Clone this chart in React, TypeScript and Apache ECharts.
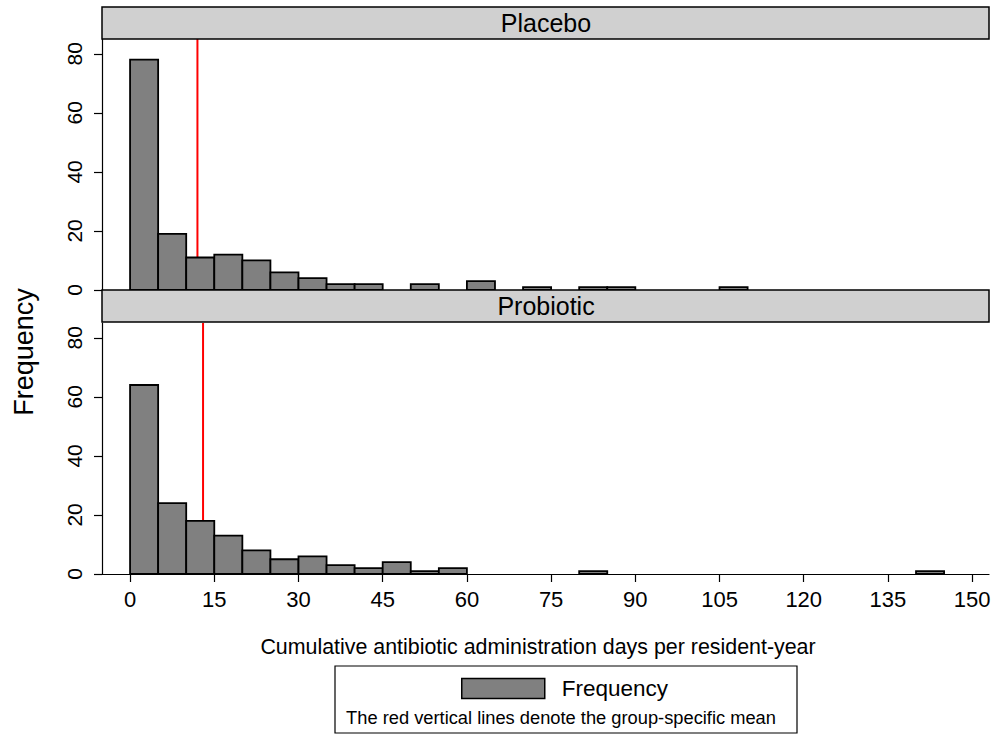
import React, { useEffect, useRef } from "react";
import * as echarts from "echarts";

// ---- data ----
const BIN_WIDTH = 5;
const panelNames = ["Placebo", "Probiotic"];
const placeboBinStarts = [0, 5, 10, 15, 20, 25, 30, 35, 40, 50, 60, 70, 80, 85, 105];
const placeboCounts = [78, 19, 11, 12, 10, 6, 4, 2, 2, 2, 3, 1, 1, 1, 1];
const probioticBinStarts = [0, 5, 10, 15, 20, 25, 30, 35, 40, 45, 50, 55, 80, 140];
const probioticCounts = [64, 24, 18, 13, 8, 5, 6, 3, 2, 4, 1, 2, 1, 1];
const groupMeans = [12.0, 13.0];
const xTickValues = [0, 15, 30, 45, 60, 75, 90, 105, 120, 135, 150];
const xRange = [-5, 153];
const yMax = 85;
const yInterval = 20;
const xTitle = "Cumulative antibiotic administration days per resident-year";
const yTitle = "Frequency";
const legendNote = "The red vertical lines denote the group-specific mean";

const FONT = "'Liberation Sans', Arial, Helvetica, sans-serif";

function toBins(starts: number[], counts: number[]) {
  return starts.map((s, i) => [s, s + BIN_WIDTH, counts[i]]);
}

export default function App() {
  const ref = useRef<HTMLDivElement>(null);
  useEffect(() => {
    if (!ref.current) return;
    const chart = echarts.init(ref.current, null, { renderer: "svg" });

    const grids = [
      { left: 102, top: 39, width: 887, height: 251 },
      { left: 102, top: 323, width: 887, height: 251 },
    ];

    const renderBar = (params: any, api: any) => {
      const x0 = api.value(0);
      const x1 = api.value(1);
      const y = api.value(2);
      const p0 = api.coord([x0, 0]);
      const p1 = api.coord([x1, y]);
      return {
        type: "rect",
        shape: { x: p0[0], y: p1[1], width: p1[0] - p0[0], height: p0[1] - p1[1] },
        style: { fill: "#808080", stroke: "#000000", lineWidth: 1.8 },
      };
    };

    const xAxisBase = {
      type: "value",
      min: xRange[0],
      max: xRange[1],
      splitLine: { show: false },
    };

    const yAxisBase = {
      type: "value",
      min: 0,
      max: yMax,
      interval: yInterval,
      splitLine: { show: false },
      axisLine: { show: true, onZero: false, lineStyle: { color: "#000", width: 1.2 } },
      axisTick: { show: true, length: 8, lineStyle: { color: "#000", width: 1.2 } },
      axisLabel: {
        rotate: 90,
        fontSize: 21,
        color: "#000",
        fontFamily: FONT,
        margin: 17,
        showMaxLabel: false,
      },
    };

    const option: any = {
      animation: false,
      backgroundColor: "#ffffff",
      grid: grids,
      xAxis: [
        {
          ...xAxisBase,
          gridIndex: 0,
          axisLine: { show: false },
          axisTick: { show: false },
          axisLabel: { show: false },
        },
        {
          ...xAxisBase,
          gridIndex: 1,
          axisLine: { show: true, onZero: false, lineStyle: { color: "#000", width: 1.2 } },
          axisTick: {
            show: true,
            length: 8,
            customValues: xTickValues,
            lineStyle: { color: "#000", width: 1.2 },
          },
          axisLabel: {
            show: true,
            customValues: xTickValues,
            fontSize: 22,
            color: "#000",
            fontFamily: FONT,
            margin: 14,
          },
        },
      ],
      yAxis: [
        { ...yAxisBase, gridIndex: 0 },
        { ...yAxisBase, gridIndex: 1 },
      ],
      legend: {
        show: true,
        data: [
          {
            name: "Frequency",
            icon: "rect",
            itemStyle: { color: "#808080", borderColor: "#000", borderWidth: 1.5 },
          },
        ],
        left: 456,
        top: 672,
        itemWidth: 83,
        itemHeight: 20,
        selectedMode: false,
        textStyle: { fontSize: 22.5, color: "#000", fontFamily: FONT, padding: [0, 0, 0, 12] },
      },
      series: [
        {
          name: "mean-placebo",
          type: "line",
          xAxisIndex: 0,
          yAxisIndex: 0,
          data: [
            [groupMeans[0], 0],
            [groupMeans[0], yMax],
          ],
          symbol: "none",
          silent: true,
          z: 1,
          lineStyle: { color: "#ff0000", width: 2 },
        },
        {
          name: "mean-probiotic",
          type: "line",
          xAxisIndex: 1,
          yAxisIndex: 1,
          data: [
            [groupMeans[1], 0],
            [groupMeans[1], yMax],
          ],
          symbol: "none",
          silent: true,
          z: 1,
          lineStyle: { color: "#ff0000", width: 2 },
        },
        {
          name: "Frequency",
          type: "custom",
          xAxisIndex: 0,
          yAxisIndex: 0,
          renderItem: renderBar,
          encode: { x: [0, 1], y: 2 },
          data: toBins(placeboBinStarts, placeboCounts),
          itemStyle: { color: "#808080" },
          z: 2,
        },
        {
          name: "Frequency",
          type: "custom",
          xAxisIndex: 1,
          yAxisIndex: 1,
          renderItem: renderBar,
          encode: { x: [0, 1], y: 2 },
          data: toBins(probioticBinStarts, probioticCounts),
          itemStyle: { color: "#808080" },
          z: 2,
        },
      ],
      graphic: [
        // strips
        {
          type: "rect",
          shape: { x: 102, y: 7, width: 887, height: 32 },
          style: { fill: "#d0d0d0", stroke: "#000", lineWidth: 1.5 },
          z: 10,
        },
        {
          type: "text",
          x: 546,
          y: 23,
          style: {
            text: panelNames[0],
            fontSize: 25,
            fontFamily: FONT,
            fill: "#000",
            align: "center",
            verticalAlign: "middle",
          },
          z: 11,
        },
        {
          type: "rect",
          shape: { x: 102, y: 290, width: 887, height: 32 },
          style: { fill: "#d0d0d0", stroke: "#000", lineWidth: 1.5 },
          z: 10,
        },
        {
          type: "text",
          x: 546,
          y: 306,
          style: {
            text: panelNames[1],
            fontSize: 25,
            fontFamily: FONT,
            fill: "#000",
            align: "center",
            verticalAlign: "middle",
          },
          z: 11,
        },
        // axis titles
        {
          type: "text",
          x: 538,
          y: 647,
          style: {
            text: xTitle,
            fontSize: 21.4,
            fontFamily: FONT,
            fill: "#000",
            align: "center",
            verticalAlign: "middle",
          },
        },
        {
          type: "text",
          x: 24,
          y: 352,
          rotation: Math.PI / 2,
          style: {
            text: yTitle,
            fontSize: 27,
            fontFamily: FONT,
            fill: "#000",
            align: "center",
            verticalAlign: "middle",
          },
        },
        // legend box
        {
          type: "rect",
          shape: { x: 335, y: 666, width: 462, height: 67 },
          style: { fill: "none", stroke: "#000", lineWidth: 1.2 },
          z: 0,
        },
        {
          type: "text",
          x: 561,
          y: 717,
          style: {
            text: legendNote,
            fontSize: 18.3,
            fontFamily: FONT,
            fill: "#000",
            align: "center",
            verticalAlign: "middle",
          },
        },
      ],
    };

    chart.setOption(option);
    return () => chart.dispose();
  }, []);

  return (
    <div
      ref={ref}
      style={{ position: "absolute", left: 0, top: 0, width: 998, height: 734 }}
    />
  );
}
